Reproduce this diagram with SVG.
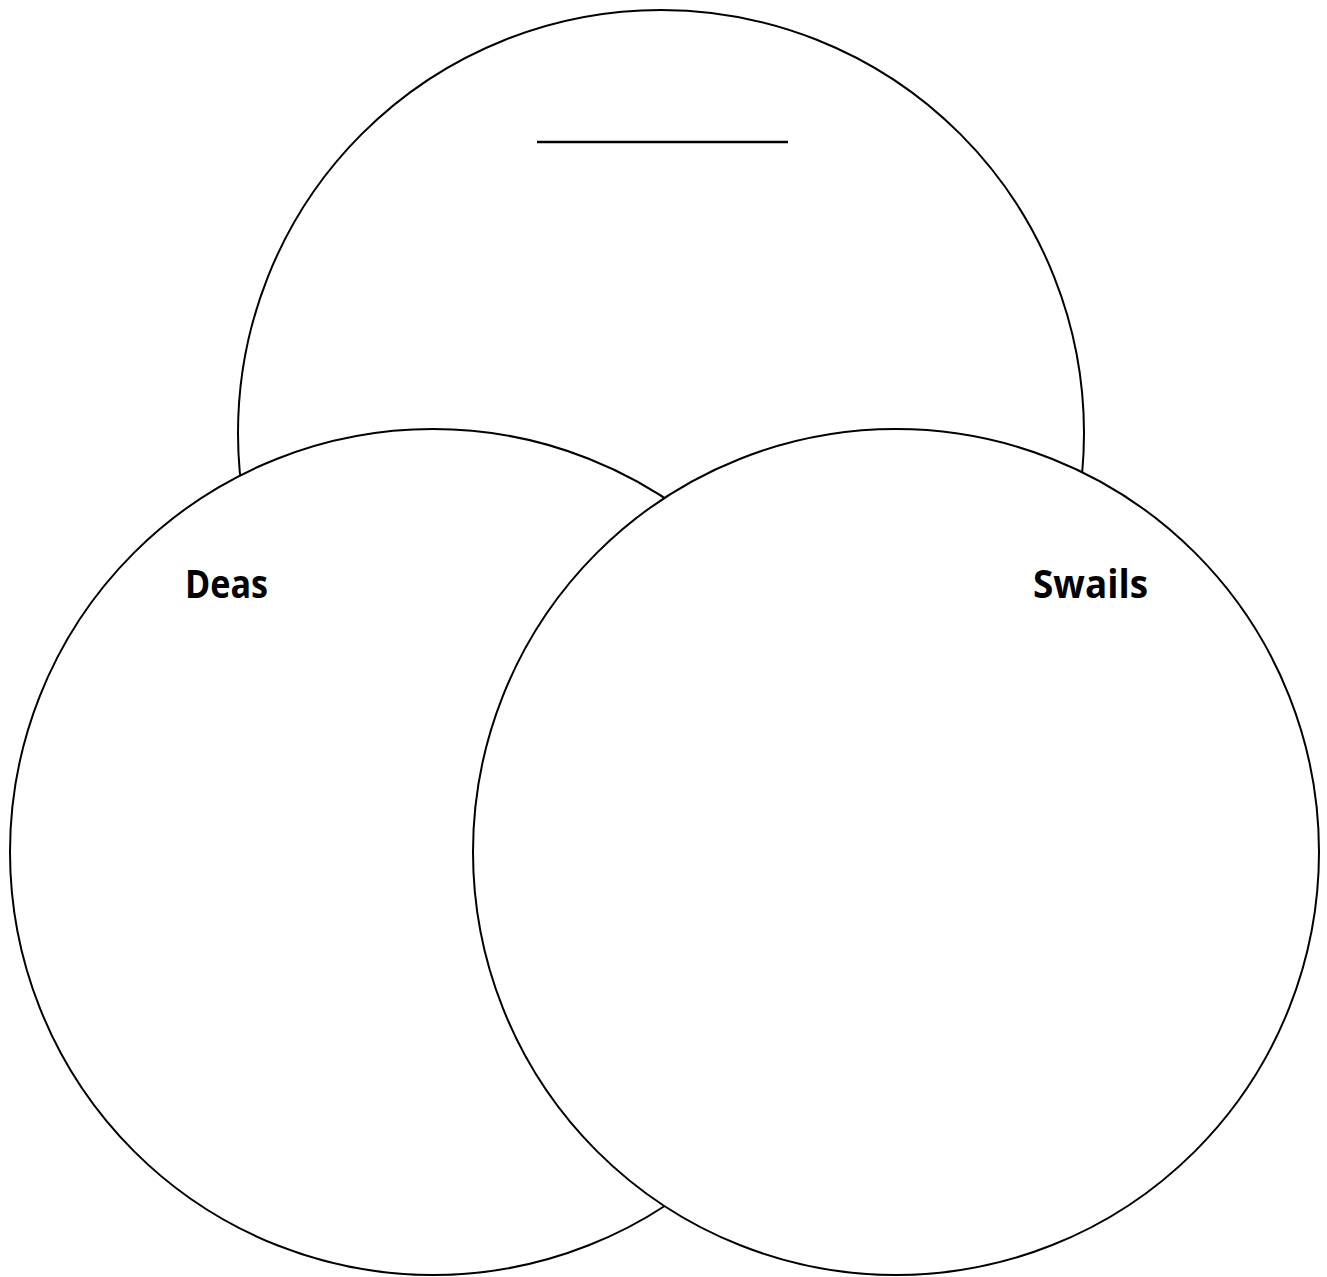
<svg xmlns="http://www.w3.org/2000/svg" width="1327" height="1277" viewBox="0 0 1327 1277">
<style>
.c{fill:#fff;stroke:#000;stroke-width:2}
.t{font-family:"Open Sans","DejaVu Sans",sans-serif;font-weight:bold;font-size:40px;fill:#000}
</style>
<rect width="1327" height="1277" fill="#fff"/>
<g id="top"><circle class="c" cx="661" cy="433" r="423"/><line x1="537" y1="142" x2="788" y2="142" stroke="#000" stroke-width="2.5"/></g>
<g id="deas"><circle class="c" cx="433" cy="852" r="423"/><text class="t" x="185" y="598" textLength="83" lengthAdjust="spacingAndGlyphs">Deas</text></g>
<g id="swails"><circle class="c" cx="896" cy="852" r="423"/><text class="t" x="1033" y="598" textLength="115" lengthAdjust="spacingAndGlyphs">Swails</text></g>
<g id="connectors"/>
</svg>
